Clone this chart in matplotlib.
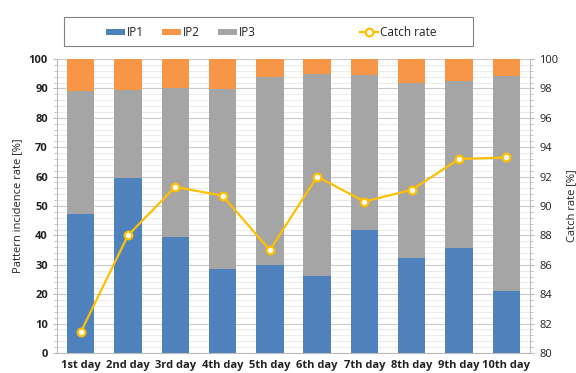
import matplotlib

matplotlib.use("Agg")
import matplotlib.pyplot as plt
from matplotlib.lines import Line2D
from matplotlib.patches import Rectangle
from matplotlib.ticker import MultipleLocator

plt.rcParams["font.family"] = ["Open Sans", "DejaVu Sans"]

days = ["1st day", "2nd day", "3rd day", "4th day", "5th day",
        "6th day", "7th day", "8th day", "9th day", "10th day"]
ip1 = [47.2, 59.4, 39.4, 28.7, 29.9, 26.3, 41.8, 32.2, 35.7, 21.1]
ip3 = [41.9, 30.2, 50.8, 61.0, 63.9, 68.6, 52.6, 59.5, 56.8, 73.2]
ip2 = [10.9, 10.4, 9.8, 10.3, 6.2, 5.1, 5.6, 8.3, 7.5, 5.7]
catch_rate = [81.4, 88.0, 91.3, 90.7, 87.0, 92.0, 90.3, 91.1, 93.2, 93.3]

C_IP1 = "#4F81BD"
C_IP2 = "#F79646"
C_IP3 = "#A5A5A5"
C_LINE = "#FFC000"

fig = plt.figure(figsize=(5.76, 3.73), dpi=100)
ax = fig.add_axes([57 / 576, 20 / 373, 473 / 576, 294 / 373])

x = range(len(days))
bottom3 = [a for a in ip1]
bottom2 = [a + b for a, b in zip(ip1, ip3)]
ax.bar(x, ip1, width=0.58, color=C_IP1, zorder=2)
ax.bar(x, ip3, width=0.58, bottom=bottom3, color=C_IP3, zorder=2)
ax.bar(x, ip2, width=0.58, bottom=bottom2, color=C_IP2, zorder=2)

ax.set_xlim(-0.5, len(days) - 0.5)
ax.set_ylim(0, 100)
ax.yaxis.set_major_locator(MultipleLocator(10))
ax.yaxis.set_minor_locator(MultipleLocator(2))
ax.grid(axis="y", which="major", color="#CACACA", linewidth=0.8, zorder=0)
ax.grid(axis="y", which="minor", color="#EBEBEB", linewidth=0.7, zorder=0)
ax.set_xticks(list(x))
ax.set_xticklabels(days, fontsize=8, fontweight="bold", color="#222222")
ax.tick_params(axis="x", length=0, pad=5)
ax.tick_params(axis="y", which="major", labelsize=8, length=3, color="#BBBBBB",
               labelcolor="#222222")
ax.tick_params(axis="y", which="minor", length=2, color="#BBBBBB")
for lbl in ax.get_yticklabels():
    lbl.set_fontweight("bold")
ax.set_ylabel("Pattern incidence rate [%]", fontsize=8, color="#222222", labelpad=4)
for side in ("top", "right"):
    ax.spines[side].set_visible(False)
ax.spines["left"].set_color("#BBBBBB")
ax.spines["bottom"].set_color("#BBBBBB")

ax2 = ax.twinx()
ax2.plot(x, catch_rate, color=C_LINE, linewidth=1.6, marker="o", markersize=5.5,
         markerfacecolor="white", markeredgecolor=C_LINE, markeredgewidth=1.6,
         zorder=3)
ax2.set_ylim(80, 100)
ax2.yaxis.set_major_locator(MultipleLocator(2))
ax2.yaxis.set_minor_locator(MultipleLocator(0.4))
ax2.tick_params(axis="y", which="major", labelsize=8, length=3, color="#BBBBBB",
                labelcolor="#222222")
ax2.tick_params(axis="y", which="minor", length=2, color="#BBBBBB")
ax2.set_ylabel("Catch rate [%]", fontsize=8, color="#222222", labelpad=6)
for side in ("top", "left", "bottom"):
    ax2.spines[side].set_visible(False)
ax2.spines["right"].set_color("#BBBBBB")

# legend drawn in a framed strip above the plot
fig.add_artist(Rectangle((64 / 576, 1 - 46 / 373), 409 / 576, 29 / 373,
                         transform=fig.transFigure, facecolor="white",
                         edgecolor="#808080", linewidth=0.8))
ly = 1 - 32 / 373
for x0, color, name in [(106, C_IP1, "IP1"), (162, C_IP2, "IP2"), (218, C_IP3, "IP3")]:
    fig.add_artist(Rectangle((x0 / 576, ly - 3 / 373), 19 / 576, 6 / 373,
                             transform=fig.transFigure, facecolor=color,
                             edgecolor="none"))
    fig.text((x0 + 21) / 576, ly, name, fontsize=8.5, va="center", ha="left",
             color="#222222")
fig.add_artist(Line2D([360 / 576, 378 / 576], [ly, ly], transform=fig.transFigure,
                      color=C_LINE, linewidth=1.6))
fig.add_artist(Line2D([369 / 576], [ly], transform=fig.transFigure,
                      color=C_LINE, marker="o", markersize=5.5,
                      markerfacecolor="white", markeredgecolor=C_LINE,
                      markeredgewidth=1.6, linestyle="none"))
fig.text(380 / 576, ly, "Catch rate", fontsize=8.5, va="center", ha="left",
         color="#222222")

fig.savefig("out.png", dpi=100, facecolor="white")
